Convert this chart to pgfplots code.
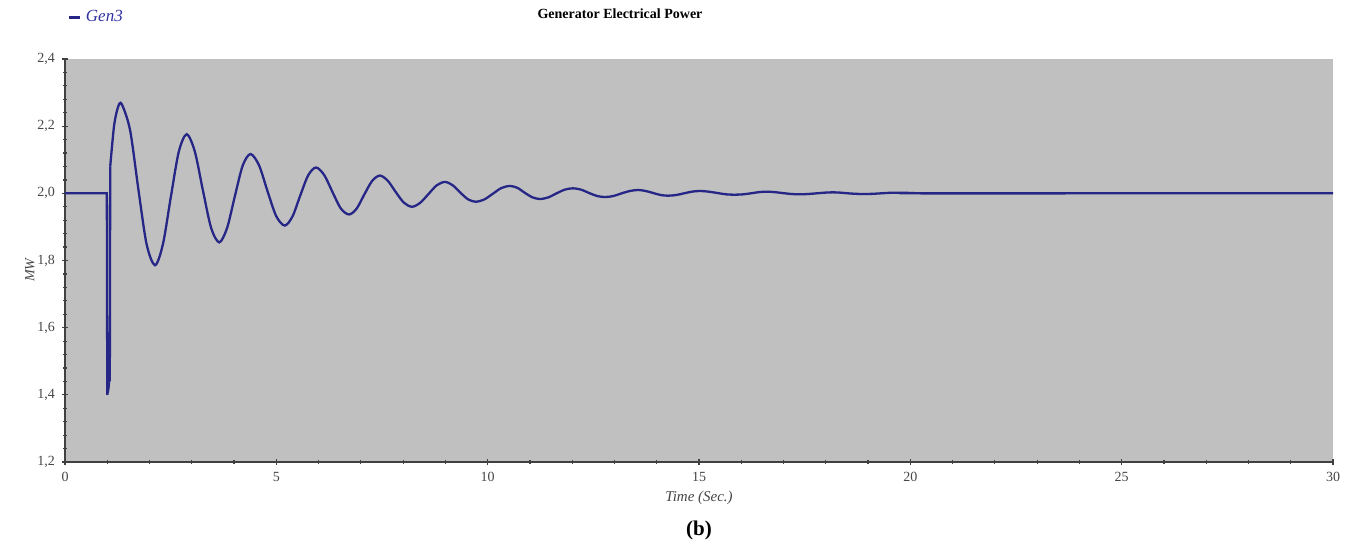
\documentclass[border=0pt]{standalone}
\usepackage{fontspec}
\setmainfont{Liberation Serif}
\usepackage{pgfplots}
\pgfplotsset{compat=1.18}

\definecolor{bggray}{RGB}{192,192,192}
\definecolor{curve}{RGB}{38,38,135}
\definecolor{legtext}{RGB}{50,50,160}
\definecolor{ticktext}{RGB}{70,70,70}

\begin{document}
\begin{tikzpicture}
\path[use as bounding box] (-32.5pt,-42.5pt) rectangle (641pt,231pt);
\begin{axis}[
  scale only axis,
  width=634pt,height=201.5pt,
  xmin=0,xmax=30,ymin=1.2,ymax=2.4,
  axis lines=left,
  axis line style={-,black!75,line width=0.8pt},
  axis background/.style={fill=bggray},
  xtick={0,5,...,30},
  ytick={1.2,1.4,...,2.41},
  minor x tick num=4,
  minor y tick num=4,
  tick align=center,
  major tick length=3pt,
  minor tick length=2pt,
  tick style={black!75,line width=0.6pt},
  scaled ticks=false,
  /pgf/number format/assume math mode=true,
  ticklabel style={font=\fontsize{7}{8}\selectfont,text=ticktext},
  yticklabel style={/pgf/number format/.cd,fixed,fixed zerofill,precision=1,use comma},
  xlabel={Time (Sec.)},
  ylabel={MW},
  xlabel style={font=\itshape\fontsize{7.5}{8}\selectfont,text=ticktext,at={(axis description cs:0.5,-0.09)},anchor=center},
  ylabel style={font=\itshape\fontsize{7}{8}\selectfont,text=ticktext,at={(axis description cs:-0.0276,0.476)},anchor=center},
  legend style={at={(axis description cs:0.002,1.104)},anchor=west,draw=none,fill=none,
    font=\itshape\fontsize{8.5}{9}\selectfont,text=legtext,inner sep=0pt},
  legend image code/.code={\draw[#1,line width=1.5pt] (0pt,0pt) -- (5.5pt,0pt);},
  clip=false,
]
\addplot[curve,line width=1.15pt,forget plot] coordinates {
  (0,2.0) (0.99,2.0) (1.0,1.40) (1.03,1.42) (1.05,1.45) (1.06,1.44) (1.07,2.08)
};
\addplot[curve,line width=1.15pt,smooth] coordinates {
  (1.07,2.08) (1.16,2.20) (1.25,2.255) (1.34,2.266)
  (1.54,2.188) (1.735,2.013) (1.93,1.849) (2.13,1.786)
  (2.3175,1.849) (2.505,1.990) (2.6925,2.124) (2.88,2.176)
  (3.0725,2.124) (3.265,2.0075) (3.4575,1.897) (3.65,1.854)
  (3.835,1.897) (4.02,1.992) (4.205,2.083) (4.39,2.117)
  (4.5925,2.083) (4.795,2.005) (4.9975,1.932) (5.20,1.904)
  (5.385,1.932) (5.57,1.995) (5.755,2.054) (5.94,2.077)
  (6.135,2.054) (6.33,2.0035) (6.525,1.955) (6.72,1.937)
  (6.9025,1.955) (7.085,1.9975) (7.2675,2.037) (7.45,2.053)
  (7.64,2.037) (7.83,2.003) (8.02,1.972) (8.21,1.960)
  (8.405,1.972) (8.60,1.998) (8.795,2.024) (8.99,2.034)
  (9.1725,2.024) (9.355,2.002) (9.5375,1.982) (9.72,1.975)
  (9.9225,1.982) (10.125,1.999) (10.3275,2.016) (10.53,2.022)
  (10.7075,2.016) (10.885,2.001) (11.0625,1.988) (11.24,1.983)
  (11.435,1.988) (11.63,2.000) (11.825,2.011) (12.02,2.015)
  (12.21,2.011) (12.40,2.001) (12.59,1.992) (12.78,1.989)
  (12.975,1.992) (13.17,2.000) (13.365,2.007) (13.56,2.010)
  (13.7375,2.007) (13.915,2.001) (14.0925,1.995) (14.27,1.993)
  (14.4575,1.995) (14.645,2.000) (14.8325,2.005) (15.02,2.007)
  (15.2275,2.005) (15.435,2.001) (15.6425,1.997) (15.85,1.996)
  (16.0375,1.997) (16.225,2.000) (16.4125,2.0035) (16.60,2.005)
  (16.80,2.0035) (17.00,2.0005) (17.19,1.998) (17.39,1.997)
  (17.58,1.998) (17.78,2.000) (17.97,2.002) (18.17,2.003)
  (18.35,2.002) (18.53,2.000) (18.72,1.9985) (18.90,1.998)
  (19.10,1.9985) (19.30,2.000) (19.50,2.0015) (19.70,2.002)
  (19.90,2.0015) (20.10,2.000) (25,2.0) (30,2.0)
};
\addlegendentry{Gen3}
\node[font=\bfseries\fontsize{7}{8}\selectfont] at (axis description cs:0.4377,1.112) {Generator Electrical Power};
\node[font=\bfseries\fontsize{10.5}{12}\selectfont] at (axis description cs:0.5,-0.169) {(b)};
\end{axis}
\end{tikzpicture}
\end{document}
